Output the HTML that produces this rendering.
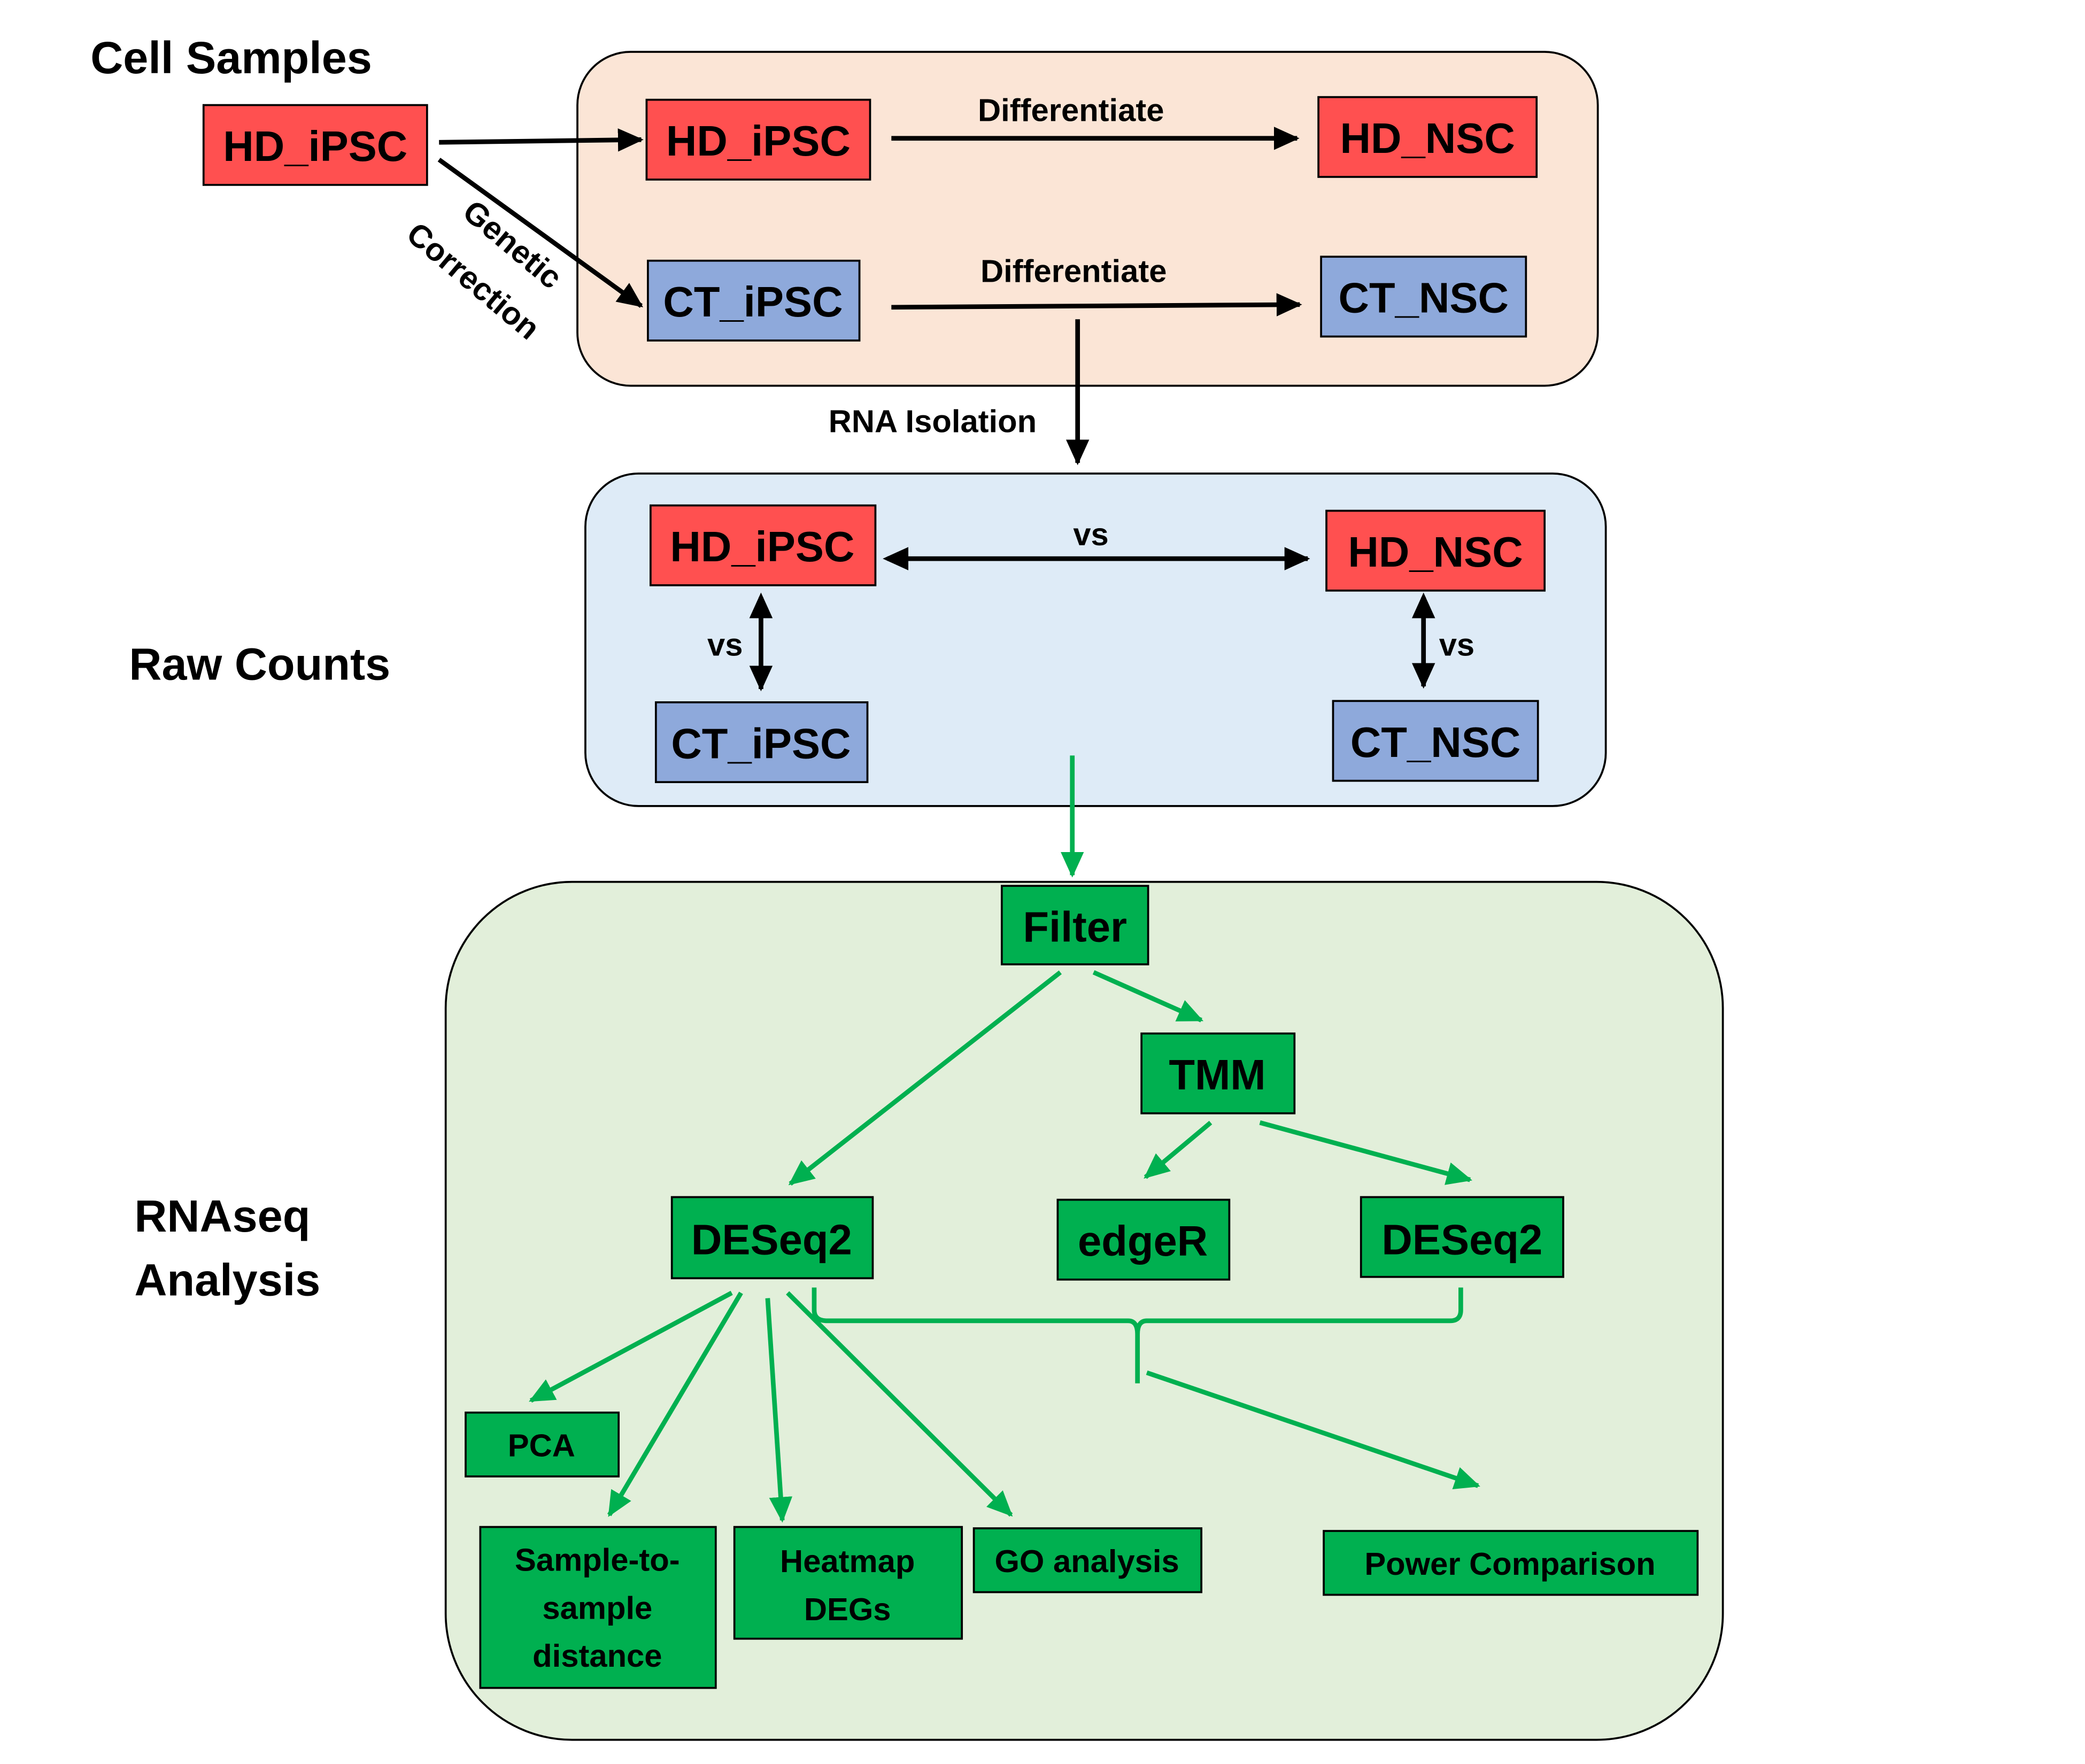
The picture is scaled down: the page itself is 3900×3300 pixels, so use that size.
<!DOCTYPE html>
<html><head><meta charset="utf-8"><style>
html,body{margin:0;padding:0;background:#fff;}
svg{display:block;}
text{font-family:"Liberation Sans",sans-serif;font-weight:bold;fill:#000;}
</style></head><body>
<svg width="3900" height="3300" viewBox="0 0 1567.2 1326.2" preserveAspectRatio="none" xmlns="http://www.w3.org/2000/svg">
<defs>
<marker id="ab" markerWidth="6" markerHeight="6" refX="5" refY="3" orient="auto" markerUnits="strokeWidth"><path d="M0,0.5 L5.5,3 L0,5.5 z" fill="#000"/></marker>
<marker id="abs" markerWidth="6" markerHeight="6" refX="1" refY="3" orient="auto" markerUnits="strokeWidth"><path d="M5.5,0.5 L0,3 L5.5,5.5 z" fill="#000"/></marker>
<marker id="ag" markerWidth="6" markerHeight="6" refX="5" refY="3" orient="auto" markerUnits="strokeWidth"><path d="M0,0.5 L5.5,3 L0,5.5 z" fill="#00B050"/></marker>
</defs>
<g font-size="34">
<text x="68" y="55">Cell Samples</text>
<text x="97" y="511">Raw Counts</text>
<text x="101" y="926">RNAseq</text>
<text x="101" y="974">Analysis</text>
</g>
<rect x="434" y="39" width="767" height="251" rx="40" fill="#FBE5D6" stroke="#000" stroke-width="1.5"/>
<rect x="440" y="356" width="767" height="250" rx="40" fill="#DEEBF7" stroke="#000" stroke-width="1.5"/>
<rect x="335" y="663" width="960" height="645" rx="95" fill="#E2EFDA" stroke="#000" stroke-width="1.5"/>
<g stroke="#000" stroke-width="1.5">
<rect x="153" y="79" width="168" height="60" fill="#FF5050"/>
<rect x="486" y="75" width="168" height="60" fill="#FF5050"/>
<rect x="991" y="73" width="164" height="60" fill="#FF5050"/>
<rect x="487" y="196" width="159" height="60" fill="#8EA9DB"/>
<rect x="993" y="193" width="154" height="60" fill="#8EA9DB"/>
<rect x="489" y="380" width="169" height="60" fill="#FF5050"/>
<rect x="997" y="384" width="164" height="60" fill="#FF5050"/>
<rect x="493" y="528" width="159" height="60" fill="#8EA9DB"/>
<rect x="1002" y="527" width="154" height="60" fill="#8EA9DB"/>
<rect x="753" y="666" width="110" height="59" fill="#00B050"/>
<rect x="858" y="777" width="115" height="60" fill="#00B050"/>
<rect x="505" y="900" width="151" height="61" fill="#00B050"/>
<rect x="795" y="902" width="129" height="60" fill="#00B050"/>
<rect x="1023" y="900" width="152" height="60" fill="#00B050"/>
<rect x="350" y="1062" width="115" height="48" fill="#00B050"/>
<rect x="361" y="1148" width="177" height="121" fill="#00B050"/>
<rect x="552" y="1148" width="171" height="84" fill="#00B050"/>
<rect x="732" y="1149" width="171" height="48" fill="#00B050"/>
<rect x="995" y="1151" width="281" height="48" fill="#00B050"/>
</g>
<g font-size="32" text-anchor="middle">
<text x="237" y="121">HD_iPSC</text>
<text x="570" y="117">HD_iPSC</text>
<text x="1073" y="115">HD_NSC</text>
<text x="566" y="238">CT_iPSC</text>
<text x="1070" y="235">CT_NSC</text>
<text x="573" y="422">HD_iPSC</text>
<text x="1079" y="426">HD_NSC</text>
<text x="572" y="570">CT_iPSC</text>
<text x="1079" y="569">CT_NSC</text>
<text x="808" y="708">Filter</text>
<text x="915" y="819">TMM</text>
<text x="580" y="943">DESeq2</text>
<text x="859" y="944">edgeR</text>
<text x="1099" y="943">DESeq2</text>
</g>
<g font-size="24" text-anchor="middle">
<text x="407" y="1095">PCA</text>
<text x="449" y="1181">Sample-to-</text>
<text x="449" y="1217">sample</text>
<text x="449" y="1253">distance</text>
<text x="637" y="1182">Heatmap</text>
<text x="637" y="1218">DEGs</text>
<text x="817" y="1182">GO analysis</text>
<text x="1135" y="1184">Power Comparison</text>
<text x="805" y="91">Differentiate</text>
<text x="807" y="212">Differentiate</text>
<text x="701" y="325">RNA Isolation</text>
<text x="820" y="410">vs</text>
<text x="545" y="493">vs</text>
<text x="1095" y="493">vs</text>
</g>
<g font-size="24" text-anchor="middle" transform="translate(380,190) rotate(40)">
<text x="0" y="0">Genetic</text>
<text x="-5" y="40">Correction</text>
</g>
<g stroke="#000" stroke-width="3.5" fill="none" marker-end="url(#ab)">
<line x1="330" y1="107" x2="482" y2="105"/>
<line x1="330" y1="120" x2="482" y2="230"/>
<line x1="670" y1="104" x2="975" y2="104"/>
<line x1="670" y1="231" x2="977" y2="229"/>
<line x1="810" y1="240" x2="810" y2="348"/>
<line x1="667" y1="420" x2="983" y2="420" marker-start="url(#abs)"/>
<line x1="572" y1="449" x2="572" y2="518" marker-start="url(#abs)"/>
<line x1="1070" y1="449" x2="1070" y2="516" marker-start="url(#abs)"/>
</g>
<g stroke="#00B050" stroke-width="3.5" fill="none" marker-end="url(#ag)">
<line x1="806" y1="568" x2="806" y2="658"/>
<line x1="797" y1="731" x2="594" y2="890"/>
<line x1="822" y1="731" x2="903" y2="767"/>
<line x1="910" y1="844" x2="861" y2="885"/>
<line x1="947" y1="844" x2="1105" y2="887"/>
<line x1="862" y1="1032" x2="1111" y2="1117"/>
<line x1="550" y1="972" x2="399" y2="1053"/>
<line x1="557" y1="972" x2="458" y2="1139"/>
<line x1="577" y1="976" x2="588" y2="1143"/>
<line x1="592" y1="972" x2="760" y2="1139"/>
</g>
<path d="M612,968 L612,985 Q612,993 622,993 L848,993 Q855,993 855,1003 L855,1040 M855,1003 Q855,993 862,993 L1090,993 Q1098,993 1098,985 L1098,968" stroke="#00B050" stroke-width="3.5" fill="none"/>
</svg>
</body></html>
